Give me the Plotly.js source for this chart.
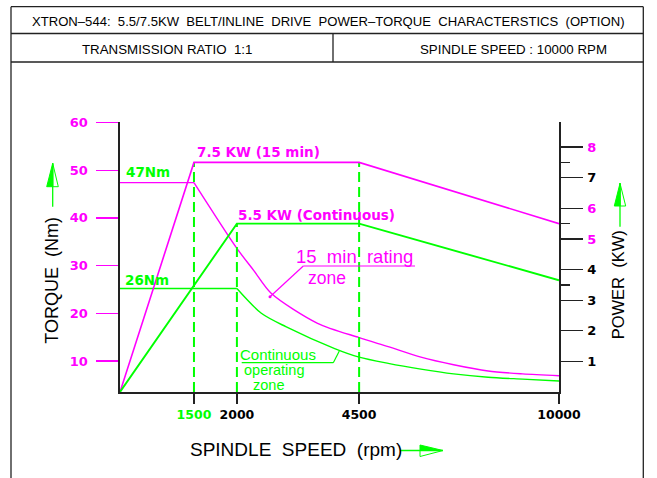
<!DOCTYPE html>
<html><head><meta charset="utf-8">
<script src="https://cdn.plot.ly/plotly-3.0.1.min.js"></script>
<style>html,body{margin:0;padding:0;background:#fff;}#chart{width:657px;height:478px;}</style>
</head><body><div id="chart"></div>
<script>
// ---------- data ----------
const speedTicks = [1500, 2000, 4500, 10000];
const speedTickColors = ['#00ff00', '#000000', '#000000', '#000000'];
const torqueTicks = [10, 20, 30, 40, 50, 60];
const powerTicks = [1, 2, 3, 4, 5, 6, 7, 8];
const powerTickColors = ['#000000', '#000000', '#000000', '#000000', '#ff00ff', '#ff00ff', '#000000', '#ff00ff'];
const powerMinorTicks = [3.5, 5.5, 7.5];

const power15Speed = [0, 1500, 4500, 10000];
const power15Kw = [0, 7.5, 7.5, 5.5];
const powerContSpeed = [0, 2000, 4500, 10000];
const powerContKw = [0, 5.5, 5.5, 3.65];
// torque: constant part, then falling part
const torque15FlatSpeed = [0, 1500];
const torque15FlatNm = [47.4, 47.4];
const torque15FallSpeed = [1500, 2000, 2350, 2700, 3650, 4500, 5300, 6200, 7100, 8050, 9000, 10000];
const torque15FallNm = [47.4, 33.6, 28.9, 24.2, 17.9, 14.9, 13.0, 10.8, 9.2, 7.9, 7.3, 6.9];
const torqueContFlatSpeed = [0, 2000];
const torqueContFlatNm = [25.2, 25.2];
const torqueContFallSpeed = [2000, 2500, 3000, 4000, 4500, 5300, 6200, 7100, 8050, 9000, 10000];
const torqueContFallNm = [25.2, 20.0, 17.2, 12.6, 10.8, 9.5, 8.3, 7.3, 6.6, 6.2, 5.8];
const markerSpeeds = [1500, 2000, 4500];
const markerTopKw = [7.5, 5.5, 7.5];

// ---------- non-uniform speed scale of the drawing (axis fraction at each break) ----------
const scaleBreaks = [0, 1500, 2000, 4500, 10000];
const scaleFrac = [0, 0.1685, 0.2663, 0.5447, 1];
function sx(s) {
  for (let i = 1; i < scaleBreaks.length; i++) {
    if (s <= scaleBreaks[i]) {
      const a = scaleBreaks[i - 1], b = scaleBreaks[i];
      return scaleFrac[i - 1] + (s - a) / (b - a) * (scaleFrac[i] - scaleFrac[i - 1]);
    }
  }
  return 1;
}

const MAG = '#ff00ff', GRN = '#00ff00', INK = '#222222';
const W = 657, H = 478, ML = 120, MR = 98, MT = 122, MB = 86;
const PW = W - ML - MR, PH = H - MT - MB;
const px = x => (x - ML) / PW;
const py = y => (H - MB - y) / PH;

const traces = [];
markerSpeeds.forEach((s, i) => {
  traces.push({x: [sx(s), sx(s)], y: [0, markerTopKw[i]], yaxis: 'y2', mode: 'lines',
    line: {color: GRN, width: 2, dash: '10px,5px'}, hoverinfo: 'skip', cliponaxis: false});
});
traces.push({x: power15Speed.map(sx), y: power15Kw, yaxis: 'y2', mode: 'lines',
  line: {color: MAG, width: 1.6}, cliponaxis: false});
traces.push({x: powerContSpeed.map(sx), y: powerContKw, yaxis: 'y2', mode: 'lines',
  line: {color: GRN, width: 1.9}, cliponaxis: false});
traces.push({x: torque15FlatSpeed.map(sx), y: torque15FlatNm, yaxis: 'y', mode: 'lines',
  line: {color: MAG, width: 1.4}, cliponaxis: false});
traces.push({x: torque15FallSpeed.map(sx), y: torque15FallNm, yaxis: 'y', mode: 'lines',
  line: {color: MAG, width: 1.4, shape: 'spline', smoothing: 0.8}, cliponaxis: false});
traces.push({x: torqueContFlatSpeed.map(sx), y: torqueContFlatNm, yaxis: 'y', mode: 'lines',
  line: {color: GRN, width: 1.4}, cliponaxis: false});
traces.push({x: torqueContFallSpeed.map(sx), y: torqueContFallNm, yaxis: 'y', mode: 'lines',
  line: {color: GRN, width: 1.4, shape: 'spline', smoothing: 0.8}, cliponaxis: false});

function L(x0, y0, x1, y1, color, w) {
  return {type: 'line', xref: 'paper', yref: 'paper', x0: px(x0), y0: py(y0), x1: px(x1), y1: py(y1),
    line: {color: color, width: w}};
}
function P(pts, fill, color) {
  const d = 'M ' + pts.map(p => px(p[0]) + ',' + py(p[1])).join(' L ') + ' Z';
  return {type: 'path', xref: 'paper', yref: 'paper', path: d, fillcolor: fill,
    line: {color: color, width: 1}};
}
const shapes = [
  // frame / header
  L(11, 6.7, 643.3, 6.7, INK, 1.3),
  L(11, 6.7, 11, 478, INK, 1.3),
  L(643.3, 6.7, 643.3, 478, INK, 1.3),
  L(11, 33.5, 643.3, 33.5, INK, 1.3),
  L(11, 62, 643.3, 62, INK, 1.3),
  L(333, 33.5, 333, 62, INK, 1.3),
  // x title arrow
  L(400, 450.5, 443, 450.5, GRN, 1.3),
  P([[420, 445], [443, 450.5], [420, 450.5]], GRN, GRN),
  P([[420, 450.5], [443, 450.5], [420, 456.5]], 'rgba(0,0,0,0)', GRN),
  // left arrow
  L(52.7, 206.7, 52.7, 163.3, GRN, 1.3),
  P([[52.7, 163.3], [46.7, 186.7], [52.7, 186.7]], GRN, GRN),
  P([[52.7, 163.3], [58.3, 186.7], [52.7, 186.7]], 'rgba(0,0,0,0)', GRN),
  // right arrow
  L(620, 226.7, 620, 183.3, GRN, 1.3),
  P([[620, 183.3], [614.3, 206], [620, 206]], GRN, GRN),
  P([[620, 183.3], [625.7, 206], [620, 206]], 'rgba(0,0,0,0)', GRN),
  // leaders
  L(415, 266, 303.3, 266, MAG, 1.2),
  L(303.3, 266, 270, 296.7, MAG, 1.2),
  {type: 'circle', xref: 'paper', yref: 'paper', x0: px(268.5), x1: px(271.5), y0: py(298.2), y1: py(295.2),
    fillcolor: MAG, line: {color: MAG, width: 0}},
  L(241.7, 362.7, 333.3, 362.7, GRN, 1.2),
  L(333.3, 362.7, 339.3, 351, GRN, 1.2)
];

const CAD = '"Liberation Sans", Arial, sans-serif';
const BOLD = '"DejaVu Sans", Verdana, sans-serif';
function A(text, x, y, opts) {
  return Object.assign({text: text, xref: 'paper', yref: 'paper', x: px(x), y: py(y),
    xanchor: 'left', yanchor: 'middle', showarrow: false, borderpad: 0}, opts);
}
const annotations = [
  A('XTRON–544:  5.5/7.5KW  BELT/INLINE  DRIVE  POWER–TORQUE  CHARACTERSTICS  (OPTION)', 328.3, 21.5,
    {xanchor: 'center', font: {family: CAD, size: 13.1, color: '#000'}}),
  A('TRANSMISSION RATIO  1:1', 166.7, 49.5, {xanchor: 'center', font: {family: CAD, size: 13.3, color: '#000'}}),
  A('SPINDLE SPEED : 10000 RPM', 513, 49.5, {xanchor: 'center', font: {family: CAD, size: 13.3, color: '#000'}}),
  A('TORQUE  (Nm)', 51.7, 280, {xanchor: 'center', textangle: -90, font: {family: CAD, size: 18, color: '#000'}}),
  A('POWER  (KW)', 618.3, 285, {xanchor: 'center', textangle: -90, font: {family: CAD, size: 16.5, color: '#000'}}),
  A('SPINDLE  SPEED  (rpm)', 295.8, 449.5, {xanchor: 'center', font: {family: CAD, size: 19, color: '#000'}}),
  A('47Nm', 125, 172, {font: {family: BOLD, size: 13.5, color: GRN, weight: 'bold'}}),
  A('26Nm', 124, 280, {font: {family: BOLD, size: 13.5, color: GRN, weight: 'bold'}}),
  A('7.5 KW (15 min)', 196, 152, {font: {family: BOLD, size: 13.5, color: MAG, weight: 'bold'}}),
  A('5.5 KW (Continuous)', 237, 215, {font: {family: BOLD, size: 13.5, color: MAG, weight: 'bold'}}),
  A('15  min  rating', 295, 256.5, {font: {family: CAD, size: 18.5, color: MAG}}),
  A('zone', 307, 277.5, {font: {family: CAD, size: 17.5, color: MAG}}),
  A('Continuous', 239.3, 354, {font: {family: CAD, size: 15, color: GRN}}),
  A('operating', 243.3, 369.5, {font: {family: CAD, size: 14.5, color: GRN}}),
  A('zone', 251.7, 385, {font: {family: CAD, size: 14.5, color: GRN}})
];

const layout = {
  width: W, height: H,
  margin: {l: ML, r: MR, t: MT, b: MB, pad: 0},
  paper_bgcolor: '#fff', plot_bgcolor: '#fff',
  showlegend: false,
  xaxis: {range: [0, 1], showgrid: false, zeroline: false, showline: true, linecolor: INK, linewidth: 1.6,
    tickmode: 'array', tickvals: speedTicks.map(sx),
    ticktext: speedTicks.map((t, i) => '<span style="color:' + speedTickColors[i] + '">' + t + '</span>'),
    ticks: 'outside', ticklen: 10, tickwidth: 1.3, tickcolor: INK,
    tickfont: {family: BOLD, size: 12.5, color: '#000', weight: 'bold'}, ticklabelstandoff: 0},
  yaxis: {range: [3.5, 60.1], showgrid: false, zeroline: false, showline: true, linecolor: INK, linewidth: 1.6,
    tickmode: 'array', tickvals: torqueTicks, ticktext: torqueTicks.map(String),
    ticks: 'outside', ticklen: 22, tickwidth: 1.3, tickcolor: MAG,
    tickfont: {family: BOLD, size: 13, color: MAG, weight: 'bold'}, ticklabelstandoff: 6},
  yaxis2: {range: [0, 8.82], overlaying: 'y', side: 'right', showgrid: false, zeroline: false,
    showline: true, linecolor: INK, linewidth: 1.6,
    tickmode: 'array', tickvals: powerTicks,
    ticktext: powerTicks.map((t, i) => '<span style="color:' + powerTickColors[i] + '">' + t + '</span>'),
    ticks: 'outside', ticklen: 22, tickwidth: 1.3, tickcolor: INK,
    minor: {tickmode: 'array', tickvals: powerMinorTicks, ticks: 'outside', ticklen: 9, tickwidth: 1.3, tickcolor: INK, showgrid: false},
    tickfont: {family: BOLD, size: 13, color: '#000', weight: 'bold'}, ticklabelstandoff: 2},
  shapes: shapes,
  annotations: annotations
};

Plotly.newPlot('chart', traces, layout, {displayModeBar: false, staticPlot: true});
</script>
</body></html>
